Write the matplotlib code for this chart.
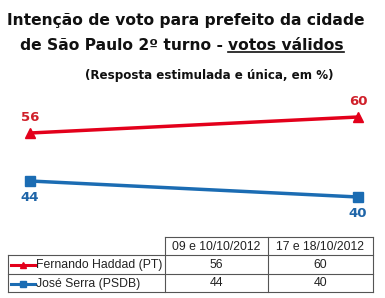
import matplotlib.pyplot as plt
import numpy as np

# data
periods = ['09 e 10/10/2012', '17 e 18/10/2012']
candidates = ['Fernando Haddad (PT)', 'José Serra (PSDB)']
haddad = [56, 60]
serra = [44, 40]
colors = ['#E3001B', '#1B6CB3']
label_colors = ['#D0202A', '#1F65A8']
markers = ['^', 's']

W, H = 385, 298
fig = plt.figure(figsize=(W / 100, H / 100), dpi=100)
fig.canvas.draw()

# title
tfs = 11.2
fig.text(186 / W, 1 - 20 / H, 'Intenção de voto para prefeito da cidade',
         ha='center', va='center', fontsize=tfs, fontweight='bold', color='#111111')
t1 = fig.text(20 / W, 1 - 45 / H, 'de São Paulo 2º turno - ', ha='left', va='center',
              fontsize=tfs, fontweight='bold', color='#111111')
bb1 = t1.get_window_extent(renderer=fig.canvas.get_renderer())
t = fig.text(bb1.x1 / W, 1 - 45 / H, 'votos válidos', ha='left', va='center',
             fontsize=tfs, fontweight='bold', color='#111111')
fig.text(209 / W, 1 - 75 / H, '(Resposta estimulada e única, em %)',
         ha='center', va='center', fontsize=8.6, fontweight='bold', color='#111111')

# line chart area (pixel layout)
ax = fig.add_axes([0, 1 - 220 / H, 1, 120 / H])
ax.set_xlim(-30 / 328, 1 + 27 / 328)
ax.set_ylim(56 - 87 / 4, 56 + 33 / 4)
ax.axis('off')

x = np.arange(len(periods))
series = [haddad, serra]
for i, vals in enumerate(series):
    ax.plot(x, vals, color=colors[i], lw=2.5, marker=markers[i], ms=7,
            solid_capstyle='butt')
    for xi, v in zip(x, vals):
        off = 11 if i == 0 else -12
        ax.annotate(str(v), (xi, v), xytext=(0, off), textcoords='offset points',
                    ha='center', va='center', fontsize=9.5, fontweight='bold',
                    color=label_colors[i])

# table below
tx = fig.add_axes([0, 0, 1, 1])
tx.set_xlim(0, W)
tx.set_ylim(H, 0)
tx.axis('off')

col_edges = [8, 165, 268, 373]
row_edges = [237, 255, 274, 292]
lc = '#555555'
# horizontal lines
tx.plot([col_edges[1], col_edges[3]], [row_edges[0]] * 2, color=lc, lw=0.8)
for r in row_edges[1:]:
    tx.plot([col_edges[0], col_edges[3]], [r, r], color=lc, lw=0.8)
# vertical lines
tx.plot([col_edges[0]] * 2, [row_edges[1], row_edges[3]], color=lc, lw=0.8)
for c in col_edges[1:]:
    tx.plot([c, c], [row_edges[0], row_edges[3]], color=lc, lw=0.8)

for j, p in enumerate(periods):
    tx.text((col_edges[j + 1] + col_edges[j + 2]) / 2, (row_edges[0] + row_edges[1]) / 2 + 0.5,
            p, ha='center', va='center', fontsize=8.8, family='Liberation Sans', color='#222222')

for i, name in enumerate(candidates):
    yc = (row_edges[i + 1] + row_edges[i + 2]) / 2 + 0.5
    tx.plot([11, 35], [yc, yc], color=colors[i], lw=2.2)
    tx.plot([23], [yc], color=colors[i], marker=markers[i], ms=4.5)
    tx.text(36, yc, name, ha='left', va='center', fontsize=8.8,
            family='Liberation Sans', color='#222222')
    for j, v in enumerate(series[i]):
        tx.text((col_edges[j + 1] + col_edges[j + 2]) / 2, yc, str(v), ha='center',
                va='center', fontsize=8.8, family='Liberation Sans', color='#222222')

fig.canvas.draw()
bb = t.get_window_extent()
fig.add_artist(plt.Line2D([bb.x0 / W, bb.x1 / W], [(bb.y0 + 1) / H] * 2,
                          color='#111111', lw=1.2))

fig.savefig('out.png', dpi=100)
